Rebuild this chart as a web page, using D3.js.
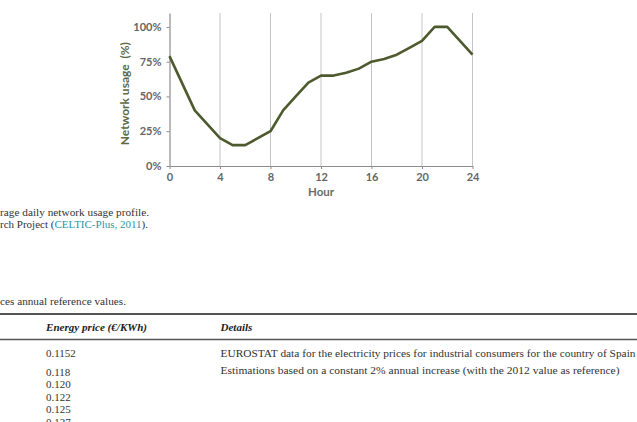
<!DOCTYPE html>
<html>
<head>
<meta charset="utf-8">
<script src="https://cdn.jsdelivr.net/npm/d3@7"></script>
<style>
  body { margin: 0; background: #fff; }
  svg { display: block; }
</style>
</head>
<body>
<svg id="page"></svg>
<script>
// hourly usage profile
var hours = [0, 2, 4, 5, 6, 8, 9, 10, 11, 12, 13, 14, 15, 16, 17, 18, 19, 20, 21, 22, 24];
var usage = [79, 40, 20, 15, 15, 25, 40, 50, 60, 65, 65, 67, 70, 75, 77, 80, 85, 90, 100, 100, 80];
var xTicks = [0, 4, 8, 12, 16, 20, 24];
var yTicks = [0, 25, 50, 75, 100];

// text around the figure
var captionLines = ["rage daily network usage profile.", "rch Project ("];
var tableTitle = "ces annual reference values.";
var tableHead = ["Energy price (\u20AC/KWh)", "Details"];
var prices = ["0.1152", "0.118", "0.120", "0.122", "0.125", "0.127"];
var details = [
  "EUROSTAT data for the electricity prices for industrial consumers for the country of Spain",
  "Estimations based on a constant 2% annual increase (with the 2012 value as reference)"
];

var svgWidth = 637, svgHeight = 422;
var svg = d3.select("#page").attr("width", svgWidth).attr("height", svgHeight);

// ---- chart ----
var plotLeft = 169.5, plotRight = 472.5, plotTop = 13, plotBottom = 166;

var x = d3.scaleLinear().domain([0, 24]).range([plotLeft, plotRight]);
var y = d3.scaleLinear().domain([0, 110]).range([plotBottom, plotTop]);

// vertical gridlines
svg.append("g")
  .selectAll("line")
  .data(xTicks.filter(function(d) { return d > 0; }))
  .join("line")
  .attr("x1", function(d) { return x(d); })
  .attr("x2", function(d) { return x(d); })
  .attr("y1", plotTop)
  .attr("y2", plotBottom)
  .attr("stroke", "#c4c4c4")
  .attr("stroke-width", 1);

var xAxis = svg.append("g")
  .attr("transform", "translate(0," + plotBottom + ")")
  .call(d3.axisBottom(x).tickValues(xTicks).tickSize(3).tickPadding(4).tickSizeOuter(0));

var yAxis = svg.append("g")
  .attr("transform", "translate(" + plotLeft + ",0)")
  .call(d3.axisLeft(y).tickValues(yTicks).tickSize(3).tickPadding(5).tickSizeOuter(0)
    .tickFormat(function(d) { return d + "%"; }));

[xAxis, yAxis].forEach(function(ax) {
  ax.select(".domain").attr("stroke", "#8c8c8c").attr("stroke-width", 1.2);
  ax.selectAll(".tick line").attr("stroke", "#8c8c8c");
  ax.selectAll(".tick text")
    .attr("fill", "#666")
    .style("font-family", "Lato, 'Open Sans', sans-serif")
    .style("font-weight", "bold")
    .style("font-size", "11px");
});

var line = d3.line()
  .x(function(d, i) { return x(hours[i]); })
  .y(function(d) { return y(d); });

svg.append("path")
  .datum(usage)
  .attr("fill", "none")
  .attr("stroke", "#4d5a2e")
  .attr("stroke-width", 2.6)
  .attr("stroke-linejoin", "round")
  .attr("d", line);

svg.append("text")
  .attr("x", x(12))
  .attr("y", 196)
  .attr("text-anchor", "middle")
  .attr("fill", "#6b6b6b")
  .style("font-family", "Lato, sans-serif")
  .style("font-weight", "bold")
  .style("font-size", "11.5px")
  .text("Hour");

svg.append("text")
  .attr("transform", "translate(129," + y(52) + ") rotate(-90)")
  .attr("text-anchor", "middle")
  .attr("fill", "#5d6a44")
  .style("font-family", "Lato, sans-serif")
  .style("font-weight", "bold")
  .style("font-size", "12px")
  .style("white-space", "pre")
  .text("Network usage  (%)");

// ---- caption ----
var serif = "'Liberation Serif', 'DejaVu Serif', serif";
svg.append("text")
  .attr("x", 0).attr("y", 216)
  .attr("fill", "#333")
  .style("font-family", serif).style("font-size", "11px")
  .attr("textLength", 149).attr("lengthAdjust", "spacingAndGlyphs")
  .text(captionLines[0]);

var cap2 = svg.append("text")
  .attr("x", 0).attr("y", 228)
  .attr("fill", "#333")
  .style("font-family", serif).style("font-size", "11px");
cap2.append("tspan").text(captionLines[1]);
cap2.append("tspan").attr("fill", "#2a95a0").text("CELTIC-Plus, 2011");
cap2.append("tspan").text(").");

// ---- table ----
svg.append("text")
  .attr("x", 0).attr("y", 304.5)
  .attr("fill", "#333")
  .style("font-family", serif).style("font-size", "11px")
  .attr("textLength", 126).attr("lengthAdjust", "spacingAndGlyphs")
  .text(tableTitle);

svg.append("line")
  .attr("x1", 0).attr("x2", svgWidth).attr("y1", 314).attr("y2", 314)
  .attr("stroke", "#555").attr("stroke-width", 2);
svg.append("line")
  .attr("x1", 0).attr("x2", svgWidth).attr("y1", 339.5).attr("y2", 339.5)
  .attr("stroke", "#555").attr("stroke-width", 1.3);

svg.append("text")
  .attr("x", 46).attr("y", 331)
  .attr("fill", "#222")
  .style("font-family", serif).style("font-size", "11px")
  .style("font-weight", "bold").style("font-style", "italic")
  .attr("textLength", 101).attr("lengthAdjust", "spacingAndGlyphs")
  .text(tableHead[0]);
svg.append("text")
  .attr("x", 220.5).attr("y", 330.5)
  .attr("fill", "#222")
  .style("font-family", serif).style("font-size", "11px")
  .style("font-weight", "bold").style("font-style", "italic")
  .text(tableHead[1]);

var priceY = [356.5, 375.5, 388, 400.5, 413, 425.5];
svg.append("g")
  .selectAll("text")
  .data(prices)
  .join("text")
  .attr("x", 46)
  .attr("y", function(d, i) { return priceY[i]; })
  .attr("fill", "#333")
  .style("font-family", serif).style("font-size", "11px")
  .text(function(d) { return d; });

var detailLen = [415, 399];
svg.append("g")
  .selectAll("text")
  .data(details)
  .join("text")
  .attr("x", 220.5)
  .attr("y", function(d, i) { return i === 0 ? 356.5 : 373.5; })
  .attr("fill", "#333")
  .style("font-family", serif).style("font-size", "11px")
  .attr("textLength", function(d, i) { return detailLen[i]; })
  .attr("lengthAdjust", "spacingAndGlyphs")
  .text(function(d) { return d; });
</script>
</body>
</html>
